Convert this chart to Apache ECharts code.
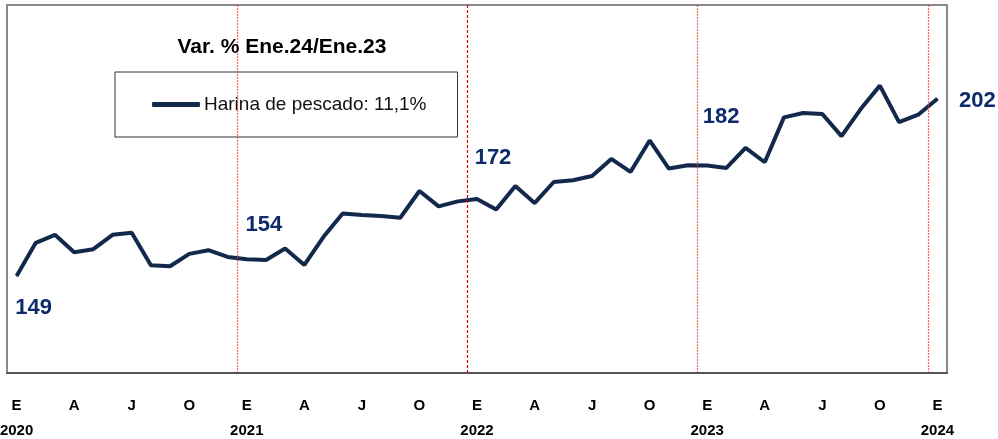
<!DOCTYPE html>
<html>
<head>
<meta charset="utf-8">
<script src="https://cdn.jsdelivr.net/npm/echarts@6/dist/echarts.min.js"></script>
<style>
  html, body { margin: 0; padding: 0; background: #fff; }
  #main { width: 998px; height: 439px; }
</style>
</head>
<body>
<div id="main"></div>
<script>
// datos: harina de pescado, ene 2020 - ene 2024
var anios = [2020, 2021, 2022, 2023, 2024];
var meses = ['E', 'F', 'M', 'A', 'M', 'J', 'J', 'A', 'S', 'O', 'N', 'D'];
var valores = [
  149, 158.9, 161.3, 156.1, 157.0, 161.3, 161.9, 152.2, 151.9, 155.6, 156.7, 154.7,
  154, 153.8, 157.2, 152.3, 160.7, 167.7, 167.2, 166.9, 166.4, 174.4, 169.8, 171.3,
  172, 168.9, 175.9, 170.8, 177.1, 177.6, 178.9, 184.0, 180.1, 189.5, 181.1, 182.1,
  182, 181.3, 187.3, 183.0, 196.4, 197.7, 197.4, 190.8, 198.9, 205.9, 195.0, 197.2,
  202
];
var etiquetas = { 0: '149', 12: '154', 24: '172', 36: '182', 48: '202' };
var serieNombre = 'Harina de pescado: 11,1%';
var titulo = 'Var. % Ene.24/Ene.23';

// categorias: letra del mes + año en enero
var categorias = [];
for (var i = 0; i < valores.length; i++) {
  var m = i % 12;
  var a = anios[Math.floor(i / 12)];
  categorias.push(m === 0 ? meses[m] + '\n' + a : meses[m]);
}

var desplaz = { 0: [17, 32], 12: [17, -34], 24: [16, -41], 36: [14, -49], 48: [40, 2] };

var datos = valores.map(function (v, i) {
  if (etiquetas[i] === undefined) return v;
  return {
    value: v,
    label: {
      show: true,
      position: 'inside',
      offset: desplaz[i],
      formatter: etiquetas[i]
    }
  };
});

// lineas verticales entre diciembre y enero
var cortes = [];
for (var k = 1; k < anios.length; k++) {
  cortes.push({
    xAxis: k * 12 - 0.5,
    lineStyle: k === 2
      ? { color: '#e00000', type: [3, 2], width: 1.2 }
      : { color: '#ff3030', type: [2, 1], width: 1.2, opacity: 0.75 }
  });
}

var myChart = echarts.init(document.getElementById('main'));

var option = {
  animation: false,
  textStyle: { fontFamily: 'Liberation Sans, Arial, sans-serif' },
  title: {
    text: titulo,
    left: 282,
    top: 37,
    padding: 0,
    textAlign: 'center',
    textStyle: { fontSize: 21, fontWeight: 'bold', color: '#000' }
  },
  legend: {
    data: [serieNombre],
    left: 115,
    top: 72,
    padding: [23, 31, 23, 37],
    borderColor: '#333',
    borderWidth: 1,
    icon: 'roundRect',
    itemWidth: 48,
    itemHeight: 5,
    itemGap: 0,
    textStyle: { fontSize: 19, color: '#111', padding: [0, 0, 0, -1] }
  },
  grid: {
    left: 7,
    right: 51,
    top: 5,
    bottom: 66,
    outerBoundsMode: 'none',
    containLabel: false,
    show: true,
    borderColor: '#888',
    borderWidth: 2
  },
  xAxis: [{
    type: 'category',
    data: categorias,
    boundaryGap: true,
    axisLine: { lineStyle: { color: '#555', width: 2 } },
    axisTick: { show: false },
    axisLabel: {
      interval: 2,
      margin: 20,
      fontSize: 15,
      fontWeight: 'bold',
      color: '#000',
      lineHeight: 25
    },
    splitLine: { show: false }
  }, {
    type: 'value',
    min: -0.5,
    max: valores.length - 0.5,
    show: false,
    splitLine: { show: false }
  }],
  yAxis: {
    type: 'value',
    min: 120,
    max: 230,
    show: false,
    splitLine: { show: false }
  },
  series: [{
    name: serieNombre,
    type: 'line',
    data: datos,
    symbol: 'circle',
    symbolSize: 1,
    lineStyle: { color: '#13294b', width: 4 },
    itemStyle: { color: '#13294b' },
    label: {
      fontSize: 22,
      fontWeight: 'bold',
      color: '#0d2a6b'
    },
    z: 3
  }, {
    name: 'cortes',
    type: 'line',
    xAxisIndex: 1,
    data: [],
    z: 1,
    itemStyle: { color: '#ff3030' },
    markLine: {
      silent: true,
      symbol: 'none',
      label: { show: false },
      lineStyle: { color: '#ff3030', width: 1.2 },
      data: cortes
    }
  }]
};

myChart.setOption(option);
</script>
</body>
</html>
